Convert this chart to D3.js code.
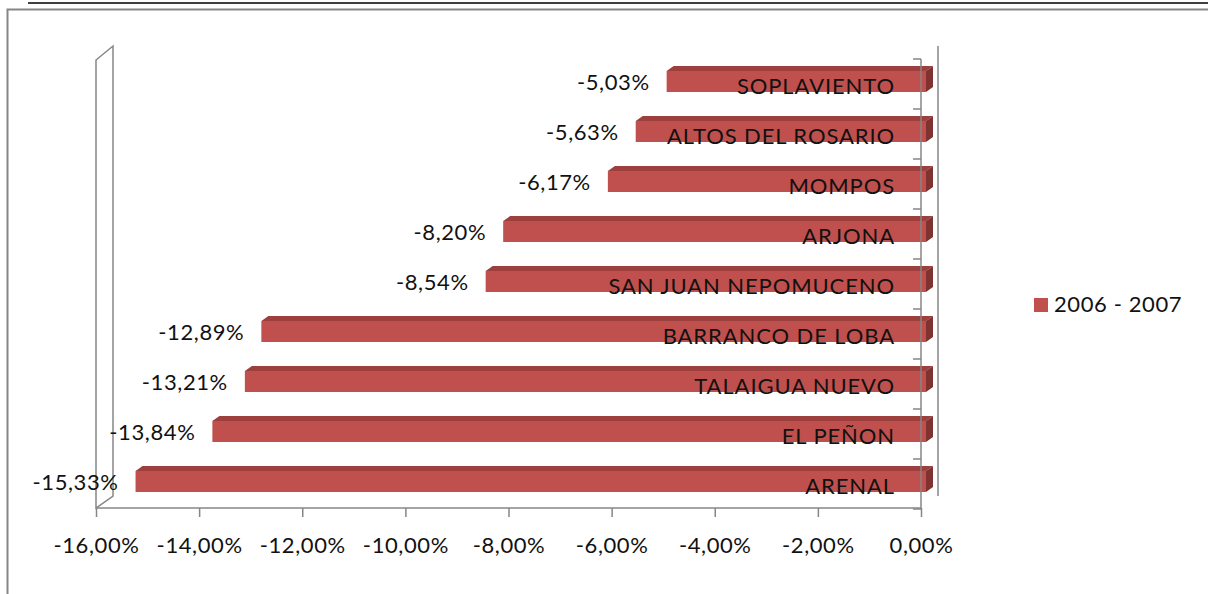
<!DOCTYPE html>
<meta charset="utf-8">
<script src="https://cdn.jsdelivr.net/npm/d3@7"></script>
<style>
  body { margin: 0; background: #fff; }
  text { font-family: Lato, "Open Sans", sans-serif; fill: #111; }
</style>
<svg></svg>
<script>
// data, top to bottom
var categories = ["SOPLAVIENTO", "ALTOS DEL ROSARIO", "MOMPOS", "ARJONA",
  "SAN JUAN NEPOMUCENO", "BARRANCO DE LOBA", "TALAIGUA NUEVO", "EL PEÑON", "ARENAL"];
var values = [-5.03, -5.63, -6.17, -8.20, -8.54, -12.89, -13.21, -13.84, -15.33];
var xTicks = [-16, -14, -12, -10, -8, -6, -4, -2, 0];
var seriesName = "2006 - 2007";

var W = 1208, H = 594;
var GRID = "#868686";
var fmt = function(v){ return v.toFixed(2).replace(".", ",") + "%"; };

var svg = d3.select("svg").attr("width", W).attr("height", H);

// page / chart frame
svg.append("line").attr("x1", 28).attr("x2", W).attr("y1", 3).attr("y2", 3)
   .attr("stroke", "#000").attr("stroke-width", 1.5);
svg.append("path").attr("d", "M7.5," + H + "V9.5H" + W)
   .attr("fill", "none").attr("stroke", GRID).attr("stroke-width", 2);

var x = d3.scaleLinear().domain([-16, 0]).range([96, 921]);
var y = d3.scaleBand().domain(categories).range([59, 509]);

var g = svg.append("g");

// walls (3d frame)
var dx = 17, dy = -12;
var x0 = x(-16), xz = x(0), yTop = y.range()[0] + 1, yBot = y.range()[1] - 1;
g.append("path")
  .attr("d", "M" + x0 + "," + yBot + "V" + yTop + "l" + dx + "," + (dy - 2) +
             "V" + (yBot + dy) + "Z")
  .attr("fill", "none").attr("stroke", GRID).attr("stroke-width", 1.5);
g.append("line").attr("x1", xz + dx).attr("x2", xz + dx)
  .attr("y1", yTop + dy - 2).attr("y2", yBot + dy)
  .attr("stroke", GRID).attr("stroke-width", 1.5);

// bars
var bx = 5, bdx = 7, bdy = -5;
var bars = g.selectAll("g.bar").data(values).enter().append("g").attr("class", "bar");
bars.each(function(v, i){
  var sel = d3.select(this);
  var xl = x(v) + bx, xr = x(0) + bx;
  var yt = y(categories[i]) + 12, yb = yt + 21;
  sel.append("path") // top
    .attr("d", "M" + xl + "," + yt + "l" + bdx + "," + bdy + "H" + (xr + bdx) + "L" + xr + "," + yt + "Z")
    .attr("fill", "#9c3f3d");
  sel.append("path") // side
    .attr("d", "M" + xr + "," + yt + "l" + bdx + "," + bdy + "v21l" + (-bdx) + "," + (-bdy) + "Z")
    .attr("fill", "#7e3331");
  sel.append("rect") // front
    .attr("x", xl).attr("y", yt).attr("width", xr - xl).attr("height", yb - yt)
    .attr("fill", "#c0504d");
});

// value axis (front)
g.append("line").attr("x1", xz).attr("x2", xz).attr("y1", yTop - 1).attr("y2", yBot + 1)
  .attr("stroke", GRID).attr("stroke-width", 1.5);
g.append("line").attr("x1", x0).attr("x2", xz).attr("y1", yBot).attr("y2", yBot)
  .attr("stroke", GRID).attr("stroke-width", 1.5);
g.selectAll("line.ctick").data(d3.range(categories.length + 1)).enter().append("line")
  .attr("class", "ctick")
  .attr("x1", xz - 8).attr("x2", xz)
  .attr("y1", function(d){ return y.range()[0] + d * y.step(); })
  .attr("y2", function(d){ return y.range()[0] + d * y.step(); })
  .attr("stroke", GRID).attr("stroke-width", 1.5);

// x axis ticks and labels
var xAxis = g.append("g").attr("transform", "translate(0," + yBot + ")")
  .call(d3.axisBottom(x).tickValues(xTicks).tickSize(9).tickPadding(20).tickFormat(fmt));
xAxis.select(".domain").remove();
xAxis.selectAll("line").attr("stroke", GRID).attr("stroke-width", 1.5);
xAxis.selectAll("text").attr("font-size", 22).attr("letter-spacing", 0.6)
  .attr("fill", "#111").style("font-family", "Lato, sans-serif");

// category labels
g.selectAll("text.cat").data(categories).enter().append("text").attr("class", "cat")
  .attr("x", 895).attr("y", function(d){ return y(d) + 35; })
  .attr("text-anchor", "end").attr("font-size", 22).attr("letter-spacing", 0.9)
  .text(function(d){ return d; });

// value labels
g.selectAll("text.val").data(values).enter().append("text").attr("class", "val")
  .attr("x", function(d){ return x(d) - 12; })
  .attr("y", function(d, i){ return y(categories[i]) + 31; })
  .attr("text-anchor", "end").attr("font-size", 22).attr("letter-spacing", 0.6)
  .text(fmt);

// legend
var leg = svg.append("g").attr("transform", "translate(1034,298)");
leg.append("rect").attr("width", 14).attr("height", 14).attr("fill", "#c0504d");
leg.append("text").attr("x", 20).attr("y", 14).attr("font-size", 22).attr("letter-spacing", 0.6)
  .text(seriesName);
</script>
